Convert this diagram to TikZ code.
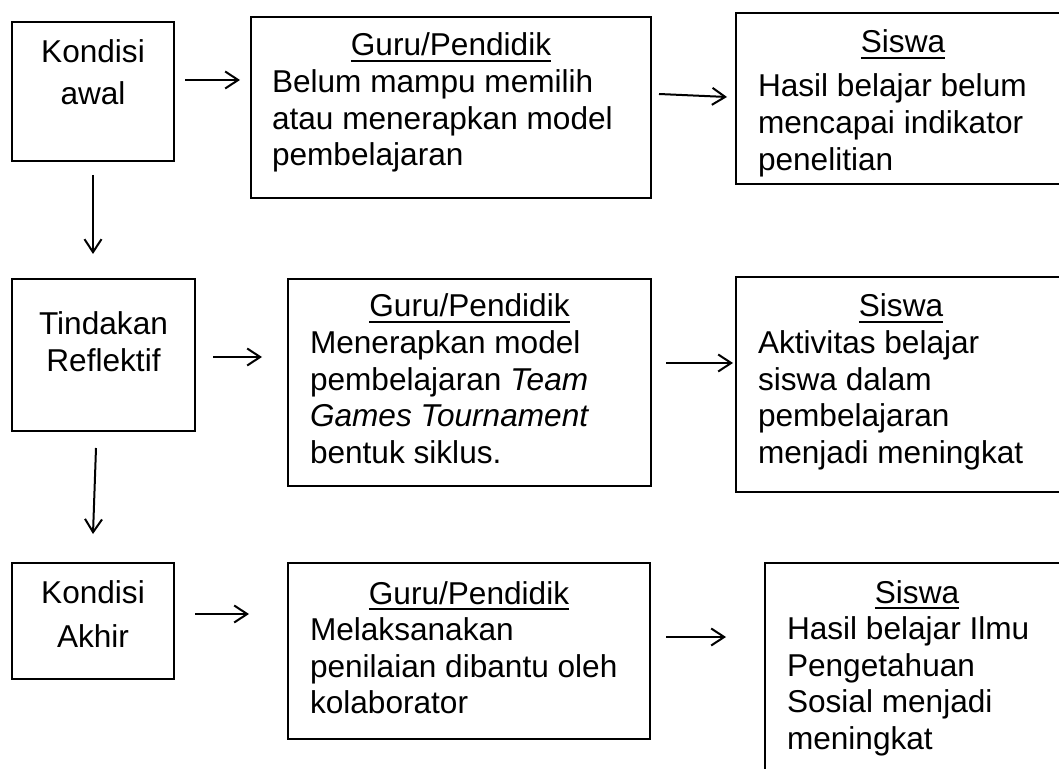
\documentclass[tikz,border=0pt]{standalone}
\usepackage{fontspec}
\setmainfont{Liberation Sans}
\usetikzlibrary{arrows.meta}
\newsavebox\hdbox
\newcommand{\hd}[1]{\sbox\hdbox{#1}\makebox[\linewidth]{\rlap{\rule[-3.2pt]{\wd\hdbox}{1.2pt}}\usebox\hdbox}}

\begin{document}
\begin{tikzpicture}
[->, >={Straight Barb[length=6.5pt,width=8.5pt]}, line width=1pt,
x=0.5pt, y=-0.5pt,
every node/.style={font=\fontsize{15.8pt}{18.3pt}\selectfont},
box/.style={draw, line width=1.4pt, inner xsep=11pt, inner ysep=0pt, outer sep=0pt, anchor=north west, align=flush left},
cond/.style={box, inner xsep=0pt, align=flush center}
]
  \path[fill=white, use as bounding box] (0,0) rectangle (1059,769); %page size

  \node[cond, text width=81pt, text height=20.5pt, text depth=49pt, font={\fontsize{15.8pt}{21pt}\selectfont}] (k1) at (12,22) {Kondisi\\awal};
  \node[box, inner xsep=10.5pt, text width=179pt, text height=19.5pt, text depth=71pt] (g1) at (251,17) {\hd{Guru/Pendidik}\\Belum mampu memilih\\atau menerapkan model\\pembelajaran};
  \node[box, text width=145pt, text height=20pt, text depth=65.5pt] (s1) at (736,13) {\hd{Siswa}\\[3.7pt]Hasil belajar belum\\mencapai indikator\\penelitian};

  \node[cond, text width=91.5pt, text height=28pt, text depth=48pt] (k2) at (12,279) {Tindakan\\Reflektif};
  \node[box, text width=159.5pt, text height=19pt, text depth=84.5pt] (g2) at (288,279) {\hd{Guru/Pendidik}\\Menerapkan model\\pembelajaran \textit{Team}\\\textit{Games Tournament}\\bentuk siklus.};
  \node[box, text width=143pt, text height=20pt, text depth=87.5pt] (s2) at (736,277) {\hd{Siswa}\\Aktivitas belajar\\siswa dalam\\pembelajaran\\menjadi meningkat};

  \node[cond, text width=81pt, text height=20pt, text depth=38pt, font={\fontsize{15.8pt}{22pt}\selectfont}] (k3) at (12,563) {Kondisi\\Akhir};
  \node[box, text width=159pt, text height=20.5pt, text depth=67.5pt] (g3) at (288,563) {\hd{Guru/Pendidik}\\Melaksanakan\\penilaian dibantu oleh\\kolaborator};
  \node[box, text width=130pt, text height=20pt, text depth=125pt] (s3) at (765,563) {\hd{Siswa}\\Hasil belajar Ilmu\\Pengetahuan\\Sosial menjadi\\meningkat}; %runs off the page

  \draw ([shift={(11,58)}]k1.north east) -- ([shift={(-11,63)}]g1.north west);
  \draw ([shift={(8,77)}]g1.north east) -- ([shift={(-9,84)}]s1.north west);
  \draw ([shift={(18,78)}]k2.north east) -- ([shift={(-26,78)}]g2.north west);
  \draw ([shift={(15,84)}]g2.north east) -- ([shift={(-3,86)}]s2.north west);
  \draw ([shift={(21,51)}]k3.north east) -- ([shift={(-39,51)}]g3.north west);
  \draw ([shift={(16,74)}]g3.north east) -- ([shift={(-39,74)}]s3.north west);
% downwards
  \draw ([shift={(0,14)}]k1.south) -- ([shift={(81,-25)}]k2.north west);
  \draw ([shift={(84,17)}]k2.south west) -- ([shift={(81,-29)}]k3.north west);
\end{tikzpicture}
\end{document}
